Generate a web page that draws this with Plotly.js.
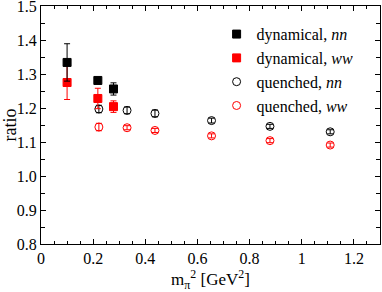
<!DOCTYPE html>
<html>
<head>
<meta charset="utf-8">
<script src="https://cdn.plot.ly/plotly-3.0.1.min.js"></script>
<style>html,body{margin:0;padding:0;background:#fff;}#chart{width:382px;height:292px;}</style>
</head>
<body>
<div id="chart"></div>
<script>
// Data
const dynNN_x = [0.100, 0.218, 0.278];
const dynNN_y = [1.334, 1.281, 1.256];
const dynNN_err = [0.055, 0.004, 0.018];

const dynWW_x = [0.100, 0.218, 0.278];
const dynWW_y = [1.275, 1.228, 1.204];
const dynWW_err = [0.050, 0.030, 0.017];

const qNN_x = [0.222, 0.330, 0.437, 0.654, 0.878, 1.109];
const qNN_y = [1.197, 1.193, 1.184, 1.163, 1.146, 1.130];
const qNN_err = [0.011, 0.010, 0.010, 0.007, 0.006, 0.006];

const qWW_x = [0.222, 0.330, 0.437, 0.654, 0.878, 1.109];
const qWW_y = [1.144, 1.142, 1.134, 1.118, 1.104, 1.091];
const qWW_err = [0.011, 0.006, 0.006, 0.006, 0.006, 0.006];

const names = ["dynamical, <i>nn</i>", "dynamical, <i>ww</i>", "quenched, <i>nn</i>", "quenched, <i>ww</i>"];

const xTickVals = [0, 0.2, 0.4, 0.6, 0.8, 1.0, 1.2];
const xTickText = ["0", "0.2", "0.4", "0.6", "0.8", "1", "1.2"];
const yTickVals = [0.8, 0.9, 1.0, 1.1, 1.2, 1.3, 1.4, 1.5];
const yTickText = ["0.8", "0.9", "1.0", "1.1", "1.2", "1.3", "1.4", "1.5"];

const FONT = "Liberation Serif, serif";

function tr(x, y, e, name, color, symbol) {
  return {
    x: x, y: y, name: name, type: "scatter", mode: "markers",
    marker: {color: color, symbol: symbol, size: 8,
             line: {color: color, width: 1}},
    error_y: {type: "data", array: e, visible: true, color: color, thickness: 1, width: 3}
  };
}

const data = [
  tr(qWW_x, qWW_y, qWW_err, names[3], "#ff0000", "circle-open"),
  tr(qNN_x, qNN_y, qNN_err, names[2], "#000000", "circle-open"),
  tr(dynWW_x, dynWW_y, dynWW_err, names[1], "#ff0000", "square"),
  tr(dynNN_x, dynNN_y, dynNN_err, names[0], "#000000", "square")
];

const layout = {
  width: 382, height: 292,
  margin: {l: 41, r: 2, t: 6, b: 48},
  paper_bgcolor: "#fff", plot_bgcolor: "#fff",
  font: {family: FONT, size: 16, color: "#000"},
  showlegend: true,
  legend: {x: 0.518, y: 0.953, xanchor: "left", yanchor: "top", traceorder: "reversed",
           bgcolor: "rgba(0,0,0,0)", font: {family: FONT, size: 16}, itemwidth: 30},
  xaxis: {
    range: [0, 1.3], tickmode: "array", tickvals: xTickVals, ticktext: xTickText,
    ticks: "inside", ticklen: 5, tickcolor: "#000", tickwidth: 1,
    ticklabeloverflow: "allow",
    minor: {dtick: 0.05, tick0: 0, ticks: "inside", ticklen: 3, tickcolor: "#000"},
    showline: true, linecolor: "#000", linewidth: 1, mirror: "ticks",
    showgrid: false, zeroline: false,
    tickfont: {family: FONT, size: 16},
    title: {text: "m<sub>π</sub><sup>2</sup> [GeV<sup>2</sup>]", font: {family: FONT, size: 17}, standoff: 4}
  },
  yaxis: {
    range: [0.8, 1.5], tickmode: "array", tickvals: yTickVals, ticktext: yTickText,
    ticks: "inside", ticklen: 5, tickcolor: "#000", tickwidth: 1,
    ticklabeloverflow: "allow",
    minor: {dtick: 0.05, tick0: 0.8, ticks: "inside", ticklen: 4, tickcolor: "#000"},
    showline: true, linecolor: "#000", linewidth: 1, mirror: "ticks",
    showgrid: false, zeroline: false,
    tickfont: {family: FONT, size: 16},
    title: {text: "ratio", font: {family: FONT, size: 18}, standoff: 2}
  }
};

Plotly.newPlot("chart", data, layout, {displayModeBar: false, staticPlot: true});
</script>
</body>
</html>
